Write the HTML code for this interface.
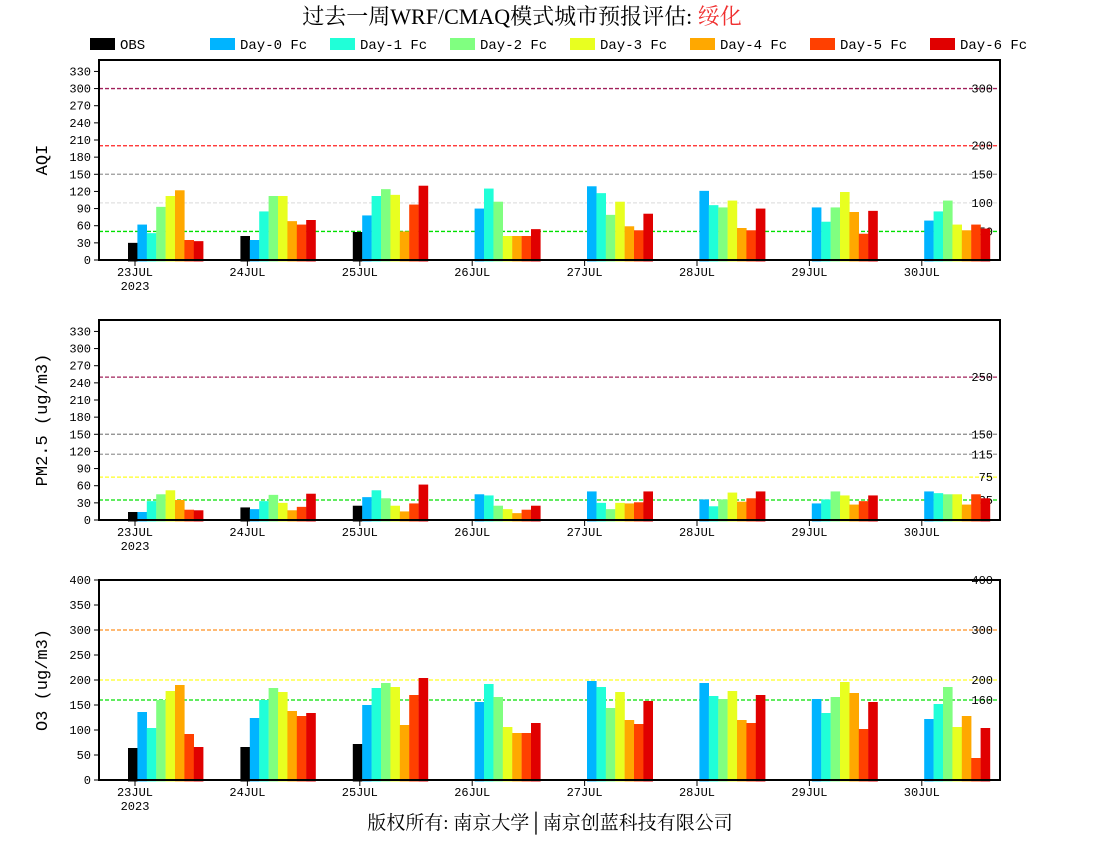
<!DOCTYPE html>
<html><head><meta charset="utf-8"><style>
body{margin:0;background:#fff}
svg{display:block;font-family:"Liberation Mono","WenQuanYi Zen Hei",monospace}
</style></head><body>
<svg id="c" width="1100" height="850">
<text x="522" y="24" text-anchor="middle" font-size="22" font-family="Liberation Serif, Noto Serif CJK SC, serif">过去一周WRF/CMAQ模式城市预报评估: <tspan fill="#f03030">绥化</tspan></text>
<text x="550" y="829" text-anchor="middle" font-size="19" font-family="Liberation Serif, Noto Serif CJK SC, serif">版权所有: 南京大学│南京创蓝科技有限公司</text>
</svg>
<script>
const seriesNames=["OBS","Day-0 Fc","Day-1 Fc","Day-2 Fc","Day-3 Fc","Day-4 Fc","Day-5 Fc","Day-6 Fc"];
const colors=["#000000","#00b4ff","#20ffd8","#80ff80","#e8ff20","#ffa800","#ff4000","#e00000"];
const days=["23JUL","24JUL","25JUL","26JUL","27JUL","28JUL","29JUL","30JUL"];
const aqiValues=[[30,62,47,93,112,122,35,33],[42,35,85,112,112,68,62,70],[49,78,112,124,114,50,97,130],[null,90,125,102,42,42,42,54],[null,129,117,79,102,59,52,81],[null,121,96,92,104,56,52,90],[null,92,67,92,119,84,46,86],[null,69,85,104,62,52,62,55]];
const pmValues=[[14,14,33,45,52,35,18,17],[22,19,33,44,30,17,23,46],[25,40,52,38,25,15,29,62],[null,45,43,25,19,12,18,25],[null,50,30,19,30,29,31,50],[null,36,24,36,48,32,38,50],[null,29,36,50,43,27,33,43],[null,50,47,45,45,27,45,38]];
const o3Values=[[64,136,104,160,178,190,92,66],[66,124,160,184,176,138,128,134],[72,150,184,194,186,110,170,204],[null,156,192,166,106,94,94,114],[null,198,186,144,176,120,112,158],[null,194,168,162,178,120,114,170],[null,162,134,166,196,174,102,156],[null,122,152,186,106,128,44,104]];
const aqiTicks=[0,30,60,90,120,150,180,210,240,270,300,330];
const pmTicks=aqiTicks;
const o3Ticks=[0,50,100,150,200,250,300,350,400];
const aqiRefs=[[300,"#a0205a","300"],[200,"#ff2020","200"],[150,"#999999","150"],[100,"#e0e0e0","100"],[50,"#00e000","50"]];
const pmRefs=[[250,"#a0205a","250"],[150,"#888888","150"],[115,"#999999","115"],[75,"#ffff20","75"],[35,"#00e000","35"]];
const o3Refs=[[400,"#ff0000","400"],[300,"#ff9020","300"],[200,"#ffff20","200"],[160,"#00e000","160"]];
const NS="http://www.w3.org/2000/svg";
const svg=document.getElementById('c');
function mk(t,a,p){const e=document.createElementNS(NS,t);for(const k in a)e.setAttribute(k,a[k]);(p||svg).appendChild(e);return e;}
seriesNames.forEach((n,i)=>{
  const lx=90+120*i;
  const r=mk('rect',{x:lx,y:38,width:25,height:12,fill:colors[i]});
  
  
  const t=mk('text',{x:lx+30,y:49,'font-size':14});t.textContent=n;
  
  
});
const X0=99,X1=1000;
function xGroup(d,s){return 128+112.4*d+9.4*s;}
function panel(name,top,bottom,max,ticks,refs,vals,title){
  const g=mk('g',{});
  
  
  const y=v=>bottom-(v/max)*(bottom-top);
  refs.forEach(r=>{
    const l=mk('line',{x1:X0,x2:X1,y1:y(r[0]),y2:y(r[0]),stroke:r[1],'stroke-width':1.3,'stroke-dasharray':'4,2'},g);
    
    
    const t=mk('text',{x:993,y:y(r[0])+4,'text-anchor':'end','font-size':12},g);t.textContent=r[2];
    
    
  });
  vals.forEach((dv,d)=>dv.forEach((v,s)=>{
    if(v==null)return;
    const b=mk('rect',{x:xGroup(d,s),y:y(v),width:9.6,height:bottom-y(v)+1.5,fill:colors[s]},g);
    
    
  }));
  mk('rect',{x:X0,y:top,width:X1-X0,height:bottom-top,fill:'none',stroke:'#000','stroke-width':2},g);
  ticks.forEach(t=>{
    mk('line',{x1:X0-5,x2:X0,y1:y(t),y2:y(t),stroke:'#000'},g);
    const tx=mk('text',{x:X0-8,y:y(t)+4,'text-anchor':'end','font-size':12},g);tx.textContent=t;
    
    
  });
  days.forEach((dn,d)=>{
    const cx=135+112.4*d;
    mk('line',{x1:cx,x2:cx,y1:bottom,y2:bottom+6,stroke:'#000'},g);
    const tx=mk('text',{x:cx,y:bottom+16,'text-anchor':'middle','font-size':12},g);tx.textContent=dn;
    
    
  });
  const yr=mk('text',{x:135,y:bottom+30,'text-anchor':'middle','font-size':12},g);yr.textContent='2023';
  
  
  const my=(top+bottom)/2;
  const tt=mk('text',{x:47,y:my,'text-anchor':'middle','font-size':17,transform:`rotate(-90 47 ${my})`},g);tt.textContent=title;
  
  
}
panel('aqi',60,260,350,aqiTicks,aqiRefs,aqiValues,'AQI');
panel('pm25',320,520,350,pmTicks,pmRefs,pmValues,'PM2.5 (ug/m3)');
panel('o3',580,780,400,o3Ticks,o3Refs,o3Values,'O3 (ug/m3)');
</script>
</body></html>
